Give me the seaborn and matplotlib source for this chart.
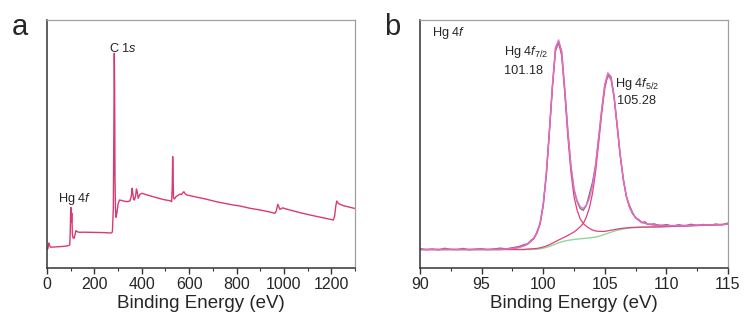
import matplotlib
matplotlib.use("Agg")
import matplotlib.pyplot as plt
import seaborn as sns
from matplotlib.ticker import MultipleLocator

# survey spectrum (panel a), intensity in arbitrary units
survey_energy = [0, 4, 8, 11, 15, 30, 50, 70, 90, 96, 98, 100, 101, 102, 103, 104.5, 105.5, 107,
                 110, 114, 118, 122, 126, 135, 160, 200, 240, 270, 276, 280, 282, 284, 285.5, 287,
                 289, 291, 295, 300, 306, 315, 336, 350, 356, 359.5, 362, 366, 369, 374, 377.5,
                 381, 385, 392, 400, 430, 460, 490, 519, 526, 528.5, 530.5, 532, 534, 538, 545,
                 552, 561, 568, 574, 578, 582, 590, 630, 674, 720, 786, 815, 857, 900, 940, 962,
                 968, 974, 979, 983, 990, 995, 1002, 1068, 1120, 1160, 1195, 1209, 1214, 1219,
                 1223, 1230, 1237, 1251, 1270, 1296, 1300]
survey_counts = [18.7, 19.5, 25.0, 22.5, 20.8, 21.0, 21.3, 21.6, 22.3, 23.0, 35, 58, 60.5, 48, 46,
                 55, 49, 34, 30, 29.7, 33, 37.3, 36.5, 35.7, 35.8, 35.6, 35.4, 35.0, 36, 60, 130,
                 214.7, 180, 90, 60, 50.7, 55, 64, 68, 67.5, 66.3, 67, 72, 79.7, 75, 68.5, 68, 72,
                 79, 76, 69.7, 73.5, 74.7, 72.5, 70.5, 68.5, 67.3, 66.3, 80, 111.3, 95, 70, 69,
                 71.5, 72.5, 74, 73.5, 75.5, 76.3, 74.5, 73, 71, 68.7, 66, 63, 62, 59.7, 58, 56,
                 54.7, 57, 63.7, 61, 58.7, 59.5, 60.2, 59.5, 55.3, 52.5, 50.5, 48.7, 48, 52, 62,
                 67, 64.5, 63.7, 62.3, 61.2, 59.7, 59.6]

# Hg 4f high-resolution spectrum (panel b)
hg_energy = [90.0, 90.5, 91.0, 91.5, 92.0, 92.5, 93.0, 93.5, 94.0, 94.5, 95.0, 95.5, 96.0, 96.5,
             97.0, 97.5, 98.0, 98.5,
             98.75, 99.0, 99.25, 99.5, 99.75, 100.0, 100.25, 100.5, 100.75, 101.0, 101.25, 101.5,
             101.75, 102.0, 102.25, 102.5, 102.75, 103.0, 103.25, 103.5, 103.75, 104.0, 104.25,
             104.5, 104.75, 105.0, 105.25, 105.5, 105.75, 106.0, 106.25, 106.5, 106.75, 107.0,
             107.25, 107.5, 107.75, 108.0, 108.25, 108.5,
             109.0, 109.5, 110.0, 110.5, 111.0, 111.5, 112.0, 112.5, 113.0, 113.5, 114.0, 114.5,
             115.0]
hg_raw = [19.5, 18.2, 19.0, 18.0, 19.8, 18.6, 18.4, 19.6, 18.1, 18.9, 19.3, 18.3, 19.1, 19.9,
          19.2, 20.3, 21.4, 23.6,
          24.0, 27.8, 29.5, 36.4, 44.6, 63.8, 93.2, 137.0, 182.0, 220.4, 226.5, 216.8, 178.2,
          137.4, 101.6, 78.2, 66.4, 59.5, 57.6, 62.5, 74.0, 85.8, 102.8, 130.4, 158.0, 183.4,
          193.6, 191.5, 171.8, 143.6, 112.8, 89.6, 71.4, 62.8, 55.6, 50.0, 48.6, 45.2, 46.3, 43.4,
          44.2, 42.1, 43.5, 41.8, 43.3, 42.0, 43.8, 42.4, 43.6, 42.5, 44.0, 43.1, 45.0]
hg_background = [18.5] * 18 + [
    18.5, 18.5, 18.6, 18.8, 19.2, 19.8, 20.6, 21.6, 22.8, 24.0, 25.2, 26.2, 27.0, 27.6, 28.1,
    28.5, 28.9, 29.2, 29.5, 29.8, 30.1, 30.5, 31.0, 31.7, 32.6, 33.6, 34.7, 35.8, 36.8, 37.7,
    38.4, 39.0, 39.5, 39.9, 40.2, 40.4, 40.6, 40.7, 40.8, 40.9,
    41.0, 41.2, 41.4, 41.6, 41.8, 42.0, 42.2, 42.5, 42.7, 42.9, 43.1, 43.4, 43.7]
# fitted components, height above the background
hg_4f72 = [0] * 14 + [0.5, 1, 2, 4,
    5.5, 8, 11, 16, 25, 42, 72, 113, 158, 193, 200, 186, 148, 104, 68, 43, 29, 20, 15, 12, 9.5,
    7.5, 6, 5, 4, 3, 2.5, 2, 1.5, 1.2, 1, 0.8, 0.6, 0.5, 0.4, 0.3, 0.2, 0.2, 0.1, 0.1] + [0] * 13
hg_4f52 = [0] * 18 + [
    0.5, 0.6, 0.7, 0.8, 1, 1.2, 1.4, 1.7, 2, 2.4, 2.8, 3.3, 4, 5, 6.2, 7.5, 9.5, 12, 15, 21, 30,
    44, 65, 93, 122, 146, 158, 153, 134, 104, 74, 49, 32, 21, 14, 10, 7, 5, 4, 3,
    2, 1.5, 1, 0.8, 0.6, 0.5, 0.4, 0.3, 0.3, 0.2, 0.2, 0.1, 0.1]

comp1 = [b + p for b, p in zip(hg_background, hg_4f72)]
comp2 = [b + p for b, p in zip(hg_background, hg_4f52)]
envelope = [b + p + q for b, p, q in zip(hg_background, hg_4f72, hg_4f52)]

sns.set_theme(style="white")
plt.rcParams['font.family'] = ['Liberation Sans', 'DejaVu Sans']
plt.rcParams['mathtext.fontset'] = 'custom'
plt.rcParams['mathtext.rm'] = 'Liberation Sans'
plt.rcParams['mathtext.it'] = 'Liberation Sans:italic'

fig = plt.figure(figsize=(7.44, 3.2), dpi=100)
ax1 = fig.add_axes([47 / 744, 52 / 320, 308 / 744, 248 / 320])
ax2 = fig.add_axes([420 / 744, 52 / 320, 308 / 744, 248 / 320])

sns.lineplot(x=survey_energy, y=survey_counts, ax=ax1, color='#d93a73', lw=1.0,
             estimator=None, sort=False)

sns.lineplot(x=hg_energy, y=hg_raw, ax=ax2, color='#6e6e7e', lw=0.9, estimator=None)
sns.lineplot(x=hg_energy, y=hg_background, ax=ax2, color='#8fd89a', lw=1.0, estimator=None)
sns.lineplot(x=hg_energy, y=comp1, ax=ax2, color='#e0407a', lw=0.9, estimator=None)
sns.lineplot(x=hg_energy, y=comp2, ax=ax2, color='#e0407a', lw=0.9, estimator=None)
sns.lineplot(x=hg_energy, y=envelope, ax=ax2, color='#e070c8', lw=1.1, estimator=None, alpha=0.9)

for ax, lim, major, minor in [(ax1, (0, 1300), 200, 100), (ax2, (90, 115), 5, 2.5)]:
    ax.set_xlim(*lim)
    ax.set_ylim(0, 248)
    ax.set_yticks([])
    ax.set_ylabel("")
    ax.xaxis.set_major_locator(MultipleLocator(major))
    ax.xaxis.set_minor_locator(MultipleLocator(minor))
    ax.tick_params(axis='x', which='major', direction='out', length=4, width=1,
                   color='#333333', labelsize=11.5, pad=2.5, bottom=True)
    ax.tick_params(axis='x', which='minor', direction='out', length=2.5, width=0.8,
                   color='#333333', bottom=True)
    ax.set_xlabel("Binding Energy (eV)", fontsize=13.5, labelpad=2)
    for side in ['left', 'bottom']:
        ax.spines[side].set_color('#333333')
        ax.spines[side].set_linewidth(1.1)
    for side in ['top', 'right']:
        ax.spines[side].set_color('#a0a0a0')
        ax.spines[side].set_linewidth(0.9)

# annotations
fs = 9.2
ax1.text(0.247, 0.871, "C 1$s$", transform=ax1.transAxes, ha='center', va='baseline', fontsize=fs)
ax1.text(0.036, 0.266, "Hg 4$f$", transform=ax1.transAxes, ha='left', va='baseline', fontsize=fs)
ax2.text(0.040, 0.935, "Hg 4$f$", transform=ax2.transAxes, ha='left', va='baseline', fontsize=fs)
ax2.text(0.272, 0.859, "Hg 4$f_{\\mathit{7/2}}$", transform=ax2.transAxes, ha='left',
         va='baseline', fontsize=fs)
ax2.text(0.272, 0.782, "101.18", transform=ax2.transAxes, ha='left', va='baseline', fontsize=fs)
ax2.text(0.634, 0.730, "Hg 4$f_{\\mathit{5/2}}$", transform=ax2.transAxes, ha='left',
         va='baseline', fontsize=fs)
ax2.text(0.641, 0.661, "105.28", transform=ax2.transAxes, ha='left', va='baseline', fontsize=fs)

fig.text(12 / 744, 1 - 35 / 320, "a", fontsize=21, ha='left', va='baseline')
fig.text(384 / 744, 1 - 35 / 320, "b", fontsize=21, ha='left', va='baseline')

fig.savefig("out.png", dpi=100)
